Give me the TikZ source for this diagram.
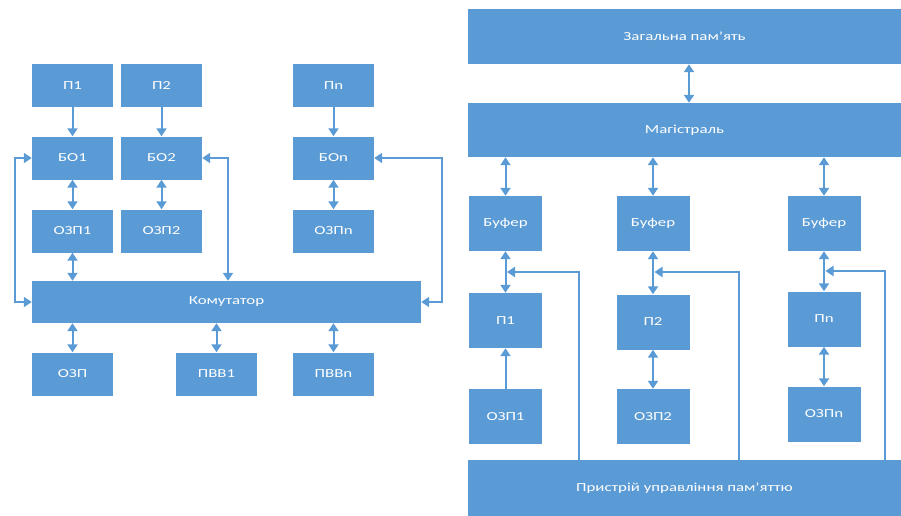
\documentclass[tikz,border=0pt]{standalone}
\usepackage{fontspec}
\setmainfont{Carlito}[FakeStretch=1.38]
\usetikzlibrary{arrows.meta}
\definecolor{boxblue}{HTML}{5B9BD5}
\tikzset{
  box/.style={fill=boxblue, draw=none, text=white, font=\fontsize{12.2}{14}\selectfont, inner sep=0pt, minimum width=81pt, minimum height=43pt},
  rbox/.style={box, minimum width=73pt, minimum height=55pt},
  wide/.style={box, minimum height=55pt},
  arr/.style={draw=boxblue, line width=2pt, -{Triangle[width=10pt,length=8pt]}},
  darr/.style={draw=boxblue, line width=2pt, {Triangle[width=10pt,length=8pt]}-{Triangle[width=10pt,length=8pt]}}
}
\begin{document}
\begin{tikzpicture}[x=1pt,y=-1pt]
\useasboundingbox (0,0) rectangle (901,516);
% ---------- left diagram ----------
\node[box] (p1) at (72.5,85.5) {П1};
\node[box] (p2) at (161.5,85.5) {П2};
\node[box] (pn) at (333.5,85.5) {Пn};
\node[box] (bo1) at (72.5,158) {БО1};
\node[box] (bo2) at (161.5,158) {БО2};
\node[box] (bon) at (333.5,158) {БОn};
\node[box] (ozp1) at (72.5,231) {ОЗП1};
\node[box] (ozp2) at (161.5,231) {ОЗП2};
\node[box] (ozpn) at (333.5,231) {ОЗПn};
\node[box, minimum width=389pt, minimum height=42pt] (kom) at (226.5,302) {Комутатор};
\node[box] (ozp) at (72.5,374) {ОЗП};
\node[box] (pvv1) at (216.5,374) {ПВВ1};
\node[box] (pvvn) at (333.5,374) {ПВВn};
\coordinate (c2x) at (228,0);

\draw[arr] (p1) -- (bo1);
\draw[arr] (p2) -- (bo2);
\draw[arr] (pn) -- (bon);
\draw[darr] (bo1) -- (ozp1);
\draw[darr] (bo2) -- (ozp2);
\draw[darr] (bon) -- (ozpn);
\draw[darr] (ozp1) -- (ozp1 |- kom.north);
\draw[darr] (bo1.west) -- ++(-17,0) |- (kom.west);
\draw[darr] (bo2.east) -| (kom.north -| c2x);
\draw[darr] (bon.east) -- ++(68,0) |- (kom.east);
\draw[darr] (kom.south -| ozp) -- (ozp.north);
\draw[darr] (kom.south -| pvv1) -- (pvv1.north);
\draw[darr] (kom.south -| pvvn) -- (pvvn.north);

% ---------- right diagram ----------
\node[wide, minimum width=433pt] (zag) at (684.5,36.5) {Загальна пам’ять};
\node[wide, minimum width=433pt, minimum height=54pt] (mag) at (684.5,130) {Магістраль};
\node[rbox] (buf1) at (505.5,223.5) {Буфер};
\node[rbox] (buf2) at (653,223.5) {Буфер};
\node[rbox] (buf3) at (824,223.5) {Буфер};
\node[rbox] (rp1) at (505.5,320.5) {П1};
\node[rbox] (rp2) at (653,322) {П2};
\node[rbox] (rpn) at (824,319) {Пn};
\node[rbox] (rozp1) at (505.5,416.5) {ОЗП1};
\node[rbox] (rozp2) at (653,416.5) {ОЗП2};
\node[rbox] (rozpn) at (824,414) {ОЗПn};
\node[wide, minimum width=433pt, minimum height=56pt] (ctl) at (684.5,488) {Пристрій управління пам’яттю};

\draw[darr] ([xshift=4.5pt]zag.south) -- ([xshift=4.5pt]mag.north);
\draw[darr] (mag.south -| buf1) -- (buf1.north);
\draw[darr] (mag.south -| buf2) -- (buf2.north);
\draw[darr] (mag.south -| buf3) -- (buf3.north);
\draw[darr] (buf1) -- (rp1);
\draw[darr] (buf2) -- (rp2);
\draw[darr] (buf3) -- (rpn);
\draw[arr] (rozp1) -- (rp1);
\draw[darr] (rozp2) -- (rp2);
\draw[darr] (rozpn) -- (rpn);

\coordinate (cx1) at (579,0);
\coordinate (cx2) at (739,0);
\coordinate (cx3) at (885,0);
\coordinate (t1) at (507,272);
\coordinate (t2) at (654.5,272);
\coordinate (t3) at (825.5,271);
\draw[arr] (ctl.north -| cx1) |- (t1);
\draw[arr] (ctl.north -| cx2) |- (t2);
\draw[arr] (ctl.north -| cx3) |- (t3);
\end{tikzpicture}
\end{document}
